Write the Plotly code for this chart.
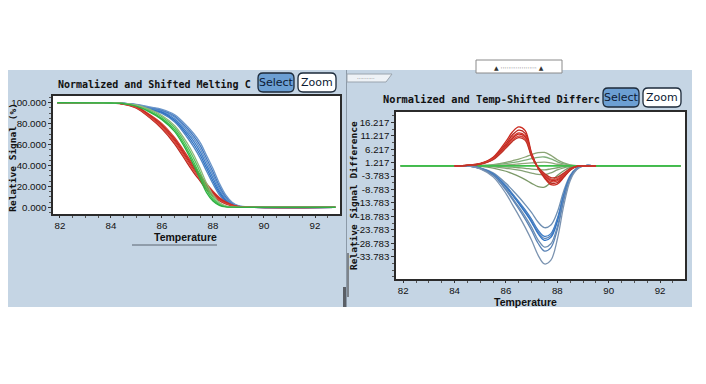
import plotly.graph_objects as go

# page body has an 8px margin: figure is placed at (8, 8)
OFF = 8
W, H = 706 - OFF, 384 - OFF

# ---------------- data ----------------
temp_left = [81.9, 84.0, 84.5, 85.0, 85.5, 86.0, 86.5, 87.0, 87.25, 87.5, 87.75, 88.0, 88.25, 88.5, 88.75, 89.0, 89.5, 92.8]

melt_red = [
    [100, 99.7, 98.8, 95.5, 87.5, 77.5, 63.5, 45.5, 36.5, 28.0, 19.7, 13.2, 7.8, 4.2, 1.8, 0.5, 0, 0],
    [100, 99.6, 98.5, 94.8, 86.0, 75.0, 60.5, 42.0, 33.0, 25.0, 17.0, 11.0, 6.3, 3.2, 1.3, 0.3, 0, 0],
    [100, 99.8, 99.0, 96.2, 89.0, 80.0, 66.5, 49.0, 40.0, 31.0, 22.5, 15.3, 9.3, 5.2, 2.4, 0.8, 0, 0],
    [100, 99.7, 98.9, 95.8, 88.3, 78.8, 65.0, 47.3, 38.2, 29.5, 21.0, 14.2, 8.5, 4.7, 2.1, 0.6, 0, 0],
    [100, 99.6, 98.7, 95.2, 86.8, 76.2, 62.0, 43.8, 34.8, 26.5, 18.4, 12.1, 7.0, 3.7, 1.5, 0.4, 0, 0],
]
melt_green = [
    [100, 99.8, 99.2, 97.0, 92.0, 85.0, 74.0, 55.0, 43.0, 30.0, 16.5, 7.5, 2.5, 0.6, 0.1, 0, 0, 0],
    [100, 99.8, 99.3, 97.4, 93.0, 86.5, 76.0, 58.0, 46.5, 33.5, 19.5, 9.5, 3.4, 0.9, 0.2, 0, 0, 0],
    [100, 99.8, 99.4, 97.8, 93.8, 87.8, 78.0, 61.0, 50.0, 37.0, 23.0, 11.8, 4.5, 1.3, 0.3, 0, 0, 0],
    [100, 99.7, 99.1, 96.6, 91.2, 83.8, 72.3, 52.5, 40.0, 27.0, 14.0, 6.0, 1.9, 0.4, 0.1, 0, 0, 0],
]
melt_blue = [
    [100, 99.8, 99.3, 97.8, 94.5, 91.5, 84.5, 71.0, 63.0, 53.0, 40.5, 28.0, 16.0, 7.5, 2.8, 0.8, 0, 0],
    [100, 99.8, 99.2, 97.4, 93.6, 89.8, 81.5, 66.5, 57.5, 47.0, 34.5, 22.5, 12.0, 5.2, 1.8, 0.5, 0, 0],
    [100, 99.8, 99.25, 97.6, 94.0, 90.7, 83.0, 68.8, 60.3, 50.0, 37.5, 25.2, 14.0, 6.3, 2.3, 0.6, 0, 0],
    [100, 99.85, 99.35, 98.0, 95.0, 92.3, 86.0, 73.2, 65.6, 56.0, 43.5, 31.0, 18.2, 8.8, 3.4, 1.0, 0, 0],
    [100, 99.85, 99.4, 98.2, 95.5, 93.0, 87.3, 75.3, 68.0, 59.0, 46.6, 34.0, 20.5, 10.2, 4.0, 1.2, 0.1, 0],
    [100, 99.9, 99.45, 98.4, 96.0, 93.7, 88.5, 77.3, 70.3, 61.8, 49.6, 37.0, 23.0, 11.8, 4.8, 1.5, 0.2, 0],
]

# full temperature range (green reference traces)
temp_right = [81.9, 84.0, 84.5, 85.0, 85.5, 86.0, 86.25, 86.5, 86.75, 87.0, 87.25, 87.5, 87.75, 88.0, 88.25, 88.5, 88.75, 89.0, 89.5, 92.8]
# active temperature window (red and blue traces)
temp_right_active = [84.0, 84.5, 85.0, 85.5, 86.0, 86.25, 86.5, 86.75, 87.0, 87.25, 87.5, 87.75, 88.0, 88.25, 88.5, 88.75, 89.0, 89.5]

diff_red = [
    [0, 0.3, 0.9, 3.2, 9.1, 12.6, 14.5, 13.1, 4.7, -0.9, -4.5, -7.0, -6.8, -4.3, -1.6, -0.3, 0, 0],
    [0, 0.3, 0.8, 2.9, 8.3, 11.5, 13.3, 12.1, 4.3, -0.8, -4.1, -6.4, -6.2, -4.0, -1.5, -0.3, 0, 0],
    [0, 0.2, 0.7, 2.7, 7.7, 10.7, 12.3, 11.2, 4.0, -0.7, -3.7, -5.8, -5.6, -3.6, -1.3, -0.2, 0, 0],
    [0, 0.2, 0.7, 2.6, 7.4, 10.2, 11.8, 10.7, 3.8, -0.7, -3.4, -5.3, -5.1, -3.3, -1.2, -0.2, 0, 0],
    [0, 0.2, 0.7, 2.5, 6.9, 9.6, 11.1, 10.1, 3.6, -0.6, -3.1, -4.9, -4.7, -3.0, -1.1, -0.2, 0, 0],
    [0, 0.2, 0.6, 2.3, 6.6, 9.1, 10.5, 9.5, 3.4, -0.5, -2.8, -4.4, -4.2, -2.7, -1.0, -0.2, 0, 0],
]
diff_blue = [
    [0, 0, -0.7, -2.6, -6.5, -9.0, -11.6, -14.4, -17.4, -20.9, -23.0, -22.0, -17.2, -9.3, -3.5, -0.9, 0, 0],
    [0, 0, -0.8, -2.9, -7.4, -10.3, -13.3, -16.4, -19.9, -23.9, -26.2, -25.2, -19.6, -10.6, -4.0, -1.1, 0, 0],
    [0, 0, -0.8, -3.0, -7.6, -10.6, -13.7, -16.9, -20.5, -24.6, -27.0, -25.9, -20.2, -10.9, -4.1, -1.1, 0, 0],
    [0, 0, -0.9, -3.1, -7.9, -10.9, -14.0, -17.4, -21.0, -25.2, -27.7, -26.6, -20.7, -11.2, -4.2, -1.1, 0, 0],
    [0, 0, -0.9, -3.4, -8.5, -11.9, -15.3, -18.9, -22.9, -27.5, -30.2, -29.0, -22.6, -12.2, -4.6, -1.2, 0, 0],
    [0, 0, -1.0, -3.5, -9.0, -12.5, -16.0, -19.8, -24.0, -28.8, -31.7, -30.4, -23.7, -12.8, -4.8, -1.3, 0, 0],
    [0, 0, -1.1, -4.1, -10.3, -14.4, -18.5, -22.9, -27.7, -33.2, -36.5, -35.1, -27.3, -14.8, -5.5, -1.5, 0, 0],
]
diff_green = [
    [0, 0, 0, 0.1, 0.5, 1.3, 1.9, 2.5, 3.3, 4.2, 4.9, 5.0, 3.9, 2.3, 1.1, 0.4, 0.1, 0, 0, 0],
    [0, 0, 0, 0.1, 0.3, 0.9, 1.2, 1.6, 2.1, 2.7, 3.2, 3.3, 2.6, 1.5, 0.7, 0.3, 0.1, 0, 0, 0],
    [0, 0, 0, 0, 0.1, 0.4, 0.5, 0.7, 0.9, 1.1, 1.3, 1.4, 1.1, 0.6, 0.3, 0.1, 0, 0, 0, 0],
    [0, 0, 0, 0, -0.2, -0.4, -0.5, -0.7, -0.9, -1.2, -1.4, -1.5, -1.1, -0.7, -0.3, -0.1, 0, 0, 0, 0],
    [0, 0, 0, -0.1, -0.3, -0.9, -1.2, -1.6, -2.1, -2.7, -3.2, -3.3, -2.6, -1.5, -0.7, -0.3, -0.1, 0, 0, 0],
    [0, 0, 0, -0.2, -0.8, -2.0, -2.9, -3.9, -5.1, -6.5, -7.7, -7.9, -6.1, -3.6, -1.8, -0.6, -0.2, 0, 0, 0],
    [0, 0, 0, 0, 0, 0, 0, 0, 0, 0, 0, 0, 0, 0, 0, 0, 0, 0, 0, 0],
]

x_ticks = [82, 84, 86, 88, 90, 92]
x_tick_labels = ["82", "84", "86", "88", "90", "92"]
left_y_ticks = [0, 20, 40, 60, 80, 100]
left_y_tick_labels = ["0.000", "20.000", "40.000", "60.000", "80.000", "100.000"]
right_y_ticks = [16.217, 11.217, 6.217, 1.217, -3.783, -8.783, -13.783, -18.783, -23.783, -28.783, -33.783]
right_y_tick_labels = ["16.217", "11.217", "6.217", "1.217", "-3.783", "-8.783", "-13.783",
                       "-18.783", "-23.783", "-28.783", "-33.783"]

left_title = "Normalized and Shifted Melting C"
right_title = "Normalized and Temp-Shifted Differc"
left_ytitle = "Relative Signal (%)"
right_ytitle = "Relative Signal Difference"
xtitle = "Temperature"

# ---------------- styling ----------------
red_cols = ["#cc2a1f", "#b8261e", "#d63a2e", "#c42a22", "#d8453a", "#bf3328"]
green_cols = ["#8aa474", "#7fae7a", "#93a57c", "#7fa06e", "#86a277", "#7d9a6a", "#3dbf4b"]
green_left_cols = ["#3cbf4a", "#55c45c", "#8fb87a", "#2fb043"]
blue_cols = ["#6f8fb2", "#3a7cc8", "#5f86b8", "#2f74c6", "#6d8db0", "#5a83b6", "#7b93b0"]
blue_left_cols = ["#3a7cc8", "#4f86c4", "#2f70c0", "#5b8cc6", "#4078c2", "#6a95c8"]


def px(x):
    return (x - OFF) / W


def py(y):
    return 1 - (y - OFF) / H


fig = go.Figure()


def add_line(xs, ys, color, xa, ya, width=1.3):
    fig.add_trace(go.Scatter(x=xs, y=ys, mode="lines", xaxis=xa, yaxis=ya,
                             line=dict(color=color, width=width, shape="spline", smoothing=1.0),
                             hoverinfo="skip"))


# left chart traces
for i, v in enumerate(melt_blue):
    add_line(temp_left, v, blue_left_cols[i], "x", "y")
for i, v in enumerate(melt_red):
    add_line(temp_left, v, red_cols[i], "x", "y")
for i, v in enumerate(melt_green):
    add_line(temp_left, v, green_left_cols[i], "x", "y")

# right chart traces
for i, v in enumerate(diff_green):
    add_line(temp_right, v, green_cols[i], "x2", "y2", 1.6 if i == len(diff_green) - 1 else 1.3)
for i, v in enumerate(diff_blue):
    add_line(temp_right_active, v, blue_cols[i], "x2", "y2")
for i, v in enumerate(diff_red):
    add_line(temp_right_active, v, red_cols[i], "x2", "y2")

tick_font = dict(family="Liberation Sans, Arial, sans-serif", size=9.7, color="#111")
axis_common = dict(showgrid=False, zeroline=False, showline=True, linecolor="#2b2b2b", linewidth=1.5,
                   mirror=True, ticks="outside", ticklen=3, tickcolor="#333", tickfont=tick_font,
                   fixedrange=True)

fig.update_layout(
    width=W, height=H,
    margin=dict(l=0, r=0, t=0, b=0),
    paper_bgcolor="white", plot_bgcolor="white",
    showlegend=False,
    xaxis=dict(axis_common, domain=[px(53), px(340)], range=[81.73, 92.98], anchor="y",
               tickvals=x_ticks, ticktext=x_tick_labels, ticklen=2,
               minor=dict(ticks="outside", ticklen=2, dtick=0.5, tick0=82, tickcolor="#555")),
    yaxis=dict(axis_common, domain=[py(214), py(96)], range=[-6.4, 106.4], anchor="x",
               tickvals=left_y_ticks, ticktext=left_y_tick_labels,
               minor=dict(ticks="outside", ticklen=2, dtick=5, tick0=0, tickcolor="#555")),
    xaxis2=dict(axis_common, domain=[px(396), px(685)], range=[81.72, 92.97], anchor="y2",
                tickvals=x_ticks, ticktext=x_tick_labels, ticklen=2,
                minor=dict(ticks="outside", ticklen=2, dtick=0.5, tick0=82, tickcolor="#555")),
    yaxis2=dict(axis_common, domain=[py(279), py(112)], range=[-42.1, 20.05], anchor="x2",
                tickvals=right_y_ticks, ticktext=right_y_tick_labels,
                minor=dict(ticks="outside", ticklen=2, dtick=2.5, tick0=1.217, tickcolor="#555")),
)

panel = "#c5d5e4"
shapes = [
    # panels
    dict(type="rect", xref="paper", yref="paper", x0=px(3), x1=px(346), y0=py(307), y1=py(70),
         fillcolor=panel, line=dict(width=0), layer="below"),
    dict(type="rect", xref="paper", yref="paper", x0=px(347), x1=px(692), y0=py(307), y1=py(70),
         fillcolor=panel, line=dict(width=0), layer="below"),
    # white plot areas
    dict(type="rect", xref="paper", yref="paper", x0=px(53), x1=px(340), y0=py(214), y1=py(96),
         fillcolor="white", line=dict(width=0), layer="below"),
    dict(type="rect", xref="paper", yref="paper", x0=px(396), x1=px(685), y0=py(279), y1=py(112),
         fillcolor="white", line=dict(width=0), layer="below"),
    dict(type="line", xref="paper", yref="paper", x0=px(346.5), x1=px(346.5), y0=py(307), y1=py(70),
         line=dict(color="#8c9aa8", width=1), layer="below"),
    dict(type="rect", xref="paper", yref="paper", x0=px(343), x1=px(346), y0=py(307), y1=py(287),
         fillcolor="#5a5f66", line=dict(width=0), layer="below"),
    dict(type="rect", xref="paper", yref="paper", x0=px(347), x1=px(349), y0=py(297), y1=py(253),
         fillcolor="#7d848c", line=dict(width=0), layer="below"),
    # top widget of the right panel
    dict(type="rect", xref="paper", yref="paper", x0=px(476), x1=px(562), y0=py(73), y1=py(60),
         fillcolor="white", line=dict(color="#8a8a8a", width=1), layer="below"),
    # tab at top-left of the right panel
    dict(type="path", xref="paper", yref="paper",
         path=f"M {px(347)},{py(82)} L {px(386)},{py(82)} L {px(392)},{py(74)} L {px(347)},{py(74)} Z",
         fillcolor="#eef2f6", line=dict(color="#9aa4ae", width=1), layer="below"),
    # underline under left x title
    dict(type="line", xref="paper", yref="paper", x0=px(132), x1=px(217), y0=py(245), y1=py(245),
         line=dict(color="#5b6570", width=1)),
]


def button(x0, x1, y0, y1, fill, r=5):
    X0, X1, Y0, Y1 = px(x0), px(x1), py(y1), py(y0)
    rx, ry = r / W, r / H
    path = (f"M {X0+rx},{Y0} L {X1-rx},{Y0} Q {X1},{Y0} {X1},{Y0+ry} L {X1},{Y1-ry} "
            f"Q {X1},{Y1} {X1-rx},{Y1} L {X0+rx},{Y1} Q {X0},{Y1} {X0},{Y1-ry} L {X0},{Y0+ry} "
            f"Q {X0},{Y0} {X0+rx},{Y0} Z")
    return dict(type="path", xref="paper", yref="paper", path=path, fillcolor=fill,
                line=dict(color="#1c2a3a", width=1.3))


shapes += [
    button(258, 294, 73, 92, "#6c9fd3"),
    button(298, 336, 73, 92, "white"),
    button(603, 639, 88, 107, "#6c9fd3"),
    button(643, 681, 88, 107, "white"),
]

title_font = dict(family="DejaVu Sans Mono, monospace", size=10, color="#111")
ytitle_font = dict(family="DejaVu Sans Mono, monospace", size=9.5, color="#111")
xtitle_font = dict(family="Liberation Sans, Arial, sans-serif", size=10.5, color="#111")
btn_font = dict(family="DejaVu Sans, Verdana, sans-serif", size=11, color="#0c1a33")


def ann(text, x, y, font, angle=0):
    return dict(text=text, x=px(x), y=py(y), xref="paper", yref="paper", showarrow=False,
                font=font, textangle=angle, xanchor="center", yanchor="middle")


annotations = [
    ann(f"<b>{left_title}</b>", 154.5, 84, title_font),
    ann(f"<b>{right_title}</b>", 492, 99, dict(title_font, size=10.3)),
    ann(f"<b>{left_ytitle}</b>", 12.8, 157, ytitle_font, -90),
    ann(f"<b>{right_ytitle}</b>", 353, 196, ytitle_font, -90),
    ann(f"<b>{xtitle}</b>", 185, 237, xtitle_font),
    ann(f"<b>{xtitle}</b>", 525, 301.5, xtitle_font),
    ann("Select", 276, 82.5, btn_font),
    ann("Zoom", 317, 82.5, btn_font),
    ann("Select", 621, 97.5, btn_font),
    ann("Zoom", 662, 97.5, btn_font),
    ann("▲ ··················· ▲", 519, 67, dict(family="DejaVu Sans", size=6, color="#333")),
    ann("···········", 366, 78, dict(family="DejaVu Sans", size=5, color="#555")),
]

fig.update_layout(shapes=shapes, annotations=annotations)
fig.write_html("out.html")
